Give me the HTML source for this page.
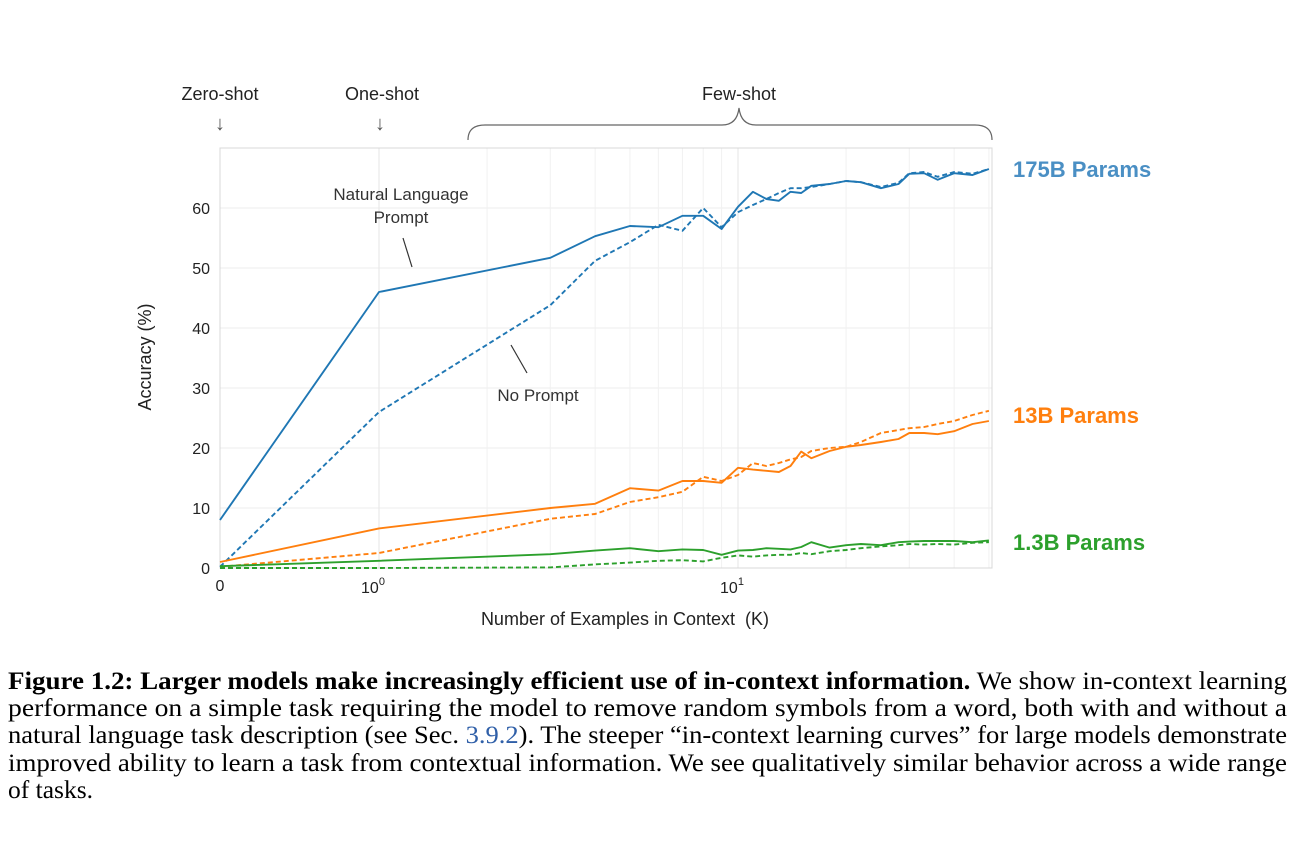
<!DOCTYPE html>
<html><head><meta charset="utf-8"><style>
body{margin:0;background:#fff;width:1299px;height:844px;overflow:hidden}
svg{display:block}
.sans{font-family:"Liberation Sans",sans-serif}
.serif{font-family:"Liberation Serif",serif}
</style></head><body>
<svg id="chart" width="1299" height="844" viewBox="0 0 1299 844" xmlns="http://www.w3.org/2000/svg">
<g id="grid"></g>
<rect x="220" y="148" width="772" height="420" fill="none" stroke="#d8d8d8" stroke-width="1"/>
<g id="ticks" class="sans" font-size="16" fill="#222"></g>
<g id="series"></g>
<text class="sans" x="0" y="0" font-size="18" fill="#222" text-anchor="middle" transform="translate(151,357) rotate(-90)">Accuracy (%)</text>
<text class="sans" x="625" y="625" font-size="18" fill="#222" text-anchor="middle" xml:space="preserve">Number of Examples in Context  (K)</text>
<g class="sans" font-size="18" fill="#222" text-anchor="middle">
<text x="220" y="100">Zero-shot</text>
<text x="220" y="130" font-size="20" fill="#555">↓</text>
<text x="382" y="100">One-shot</text>
<text x="380" y="130" font-size="20" fill="#555">↓</text>
<text x="739" y="100">Few-shot</text>
<path d="M468,140 Q468,125 485,125 L722,125 Q737,125 739,108 Q741,125 756,125 L975,125 Q992,125 992,140" fill="none" stroke="#666" stroke-width="1.2"/>
</g>
<g class="sans" font-size="17" fill="#333" text-anchor="middle">
<text x="401" y="200">Natural Language</text>
<text x="401" y="223">Prompt</text>
<line x1="403" y1="238" x2="412" y2="267" stroke="#333" stroke-width="1.2"/>
<text x="538" y="401">No Prompt</text>
<line x1="511" y1="345" x2="527" y2="373" stroke="#333" stroke-width="1.2"/>
</g>
<g class="sans" font-weight="bold" font-size="22">
<text x="1013" y="177" fill="#4a8fc4">175B Params</text>
<text x="1013" y="423" fill="#ff7f0e">13B Params</text>
<text x="1013" y="550" fill="#2ca02c">1.3B Params</text>
</g>
<g class="serif" font-size="25" fill="#000">
<text x="8" y="689" textLength="1279" lengthAdjust="spacingAndGlyphs"><tspan font-weight="bold">Figure 1.2: Larger models make increasingly efficient use of in-context information.</tspan>  We show in-context learning</text>
<text x="8" y="716" textLength="1279" lengthAdjust="spacingAndGlyphs">performance on a simple task requiring the model to remove random symbols from a word, both with and without a</text>
<text x="8" y="743" textLength="1279" lengthAdjust="spacingAndGlyphs">natural language task description (see Sec. <tspan fill="#2f5fa8">3.9.2</tspan>). The steeper “in-context learning curves” for large models demonstrate</text>
<text x="8" y="771" textLength="1279" lengthAdjust="spacingAndGlyphs">improved ability to learn a task from contextual information. We see qualitatively similar behavior across a wide range</text>
<text x="8" y="798" textLength="85" lengthAdjust="spacingAndGlyphs">of tasks.</text>
</g>
</svg>
<script>
const kValues = [0,1,3,4,5,6,7,8,9,10,11,12,13,14,15,16,18,20,22,25,28,30,33,36,40,45,50];
const blueNL = [8,46,51.7,55.3,57,56.8,58.7,58.7,56.5,60.2,62.7,61.5,61.2,62.7,62.5,63.7,64,64.5,64.3,63.3,64,65.7,65.8,64.7,65.8,65.5,66.5];
const blueNo = [0.2,26,43.8,51.2,54.3,57.2,56.2,60,56.8,59.3,60.5,61.5,62.5,63.3,63.3,63.5,64,64.5,64.3,63.5,64.2,65.8,66,65.2,66,65.7,66.5];
const orangeNL = [1,6.6,10,10.7,13.3,12.9,14.5,14.5,14.2,16.7,16.4,16.2,16,17,19.4,18.3,19.5,20.2,20.5,21,21.5,22.5,22.5,22.3,22.8,24,24.5];
const orangeNo = [0.2,2.5,8.2,9,11,11.8,12.7,15.2,14.5,15.5,17.5,17,17.5,18.1,18.5,19.5,20,20.2,21,22.5,23,23.3,23.5,24,24.5,25.5,26.2];
const greenNL = [0.3,1.2,2.3,2.9,3.3,2.8,3.1,3,2.2,2.9,3,3.3,3.2,3.1,3.5,4.3,3.4,3.8,4,3.8,4.3,4.4,4.5,4.5,4.5,4.3,4.6];
const greenNo = [0,0,0.1,0.6,0.9,1.2,1.3,1.1,1.7,2.1,1.9,2.1,2.2,2.2,2.5,2.3,2.8,3,3.3,3.6,3.8,4,3.9,4,3.9,4.2,4.3];
const yTicks = [0,10,20,30,40,50,60];

const NS="http://www.w3.org/2000/svg";
function xScale(k){return k<=1?220+159*k:379+359*Math.log10(k);}
function yScale(v){return 568-6*v;}
function mk(tag,attrs,parent){const e=document.createElementNS(NS,tag);for(const a in attrs)e.setAttribute(a,attrs[a]);parent.appendChild(e);return e;}
const grid=document.getElementById('grid'),ticks=document.getElementById('ticks'),series=document.getElementById('series');
yTicks.forEach(v=>{
  const l=mk('line',{x1:220,x2:992,y1:yScale(v),y2:yScale(v),stroke:'#ececec','stroke-width':1},grid);
  
  
  const t=mk('text',{x:210,y:yScale(v)+6,'text-anchor':'end'},ticks);
  t.textContent=v;
  
  
});
for(let k=2;k<=50;k++){
  if(k===10)continue;
  if(k>10&&k%10!==0)continue;
  const l=mk('line',{x1:xScale(k),x2:xScale(k),y1:148,y2:568,stroke:'#f1f1f1','stroke-width':1},grid);
  
  
}
[1,10].forEach(k=>{
  const l=mk('line',{x1:xScale(k),x2:xScale(k),y1:148,y2:568,stroke:'#e6e6e6','stroke-width':1},grid);
  
  
});
const t0=mk('text',{x:220,y:591,'text-anchor':'middle'},ticks);t0.textContent='0';


[[1,'0'],[10,'1']].forEach(([k,e])=>{
  const t=mk('text',{x:xScale(k)-6,y:593,'text-anchor':'middle'},ticks);
  t.innerHTML='10<tspan dy="-8" font-size="11">'+e+'</tspan>';
  
  
});
const defs=[[blueNL,'#1f77b4',null,'line-175b-prompt'],[blueNo,'#1f77b4','5,3','line-175b-no-prompt'],
[orangeNL,'#ff7f0e',null,'line-13b-prompt'],[orangeNo,'#ff7f0e','5,3','line-13b-no-prompt'],
[greenNL,'#2ca02c',null,'line-1-3b-prompt'],[greenNo,'#2ca02c','5,3','line-1-3b-no-prompt']];
defs.forEach(([vals,col,dash,name])=>{
  const pts=kValues.map((k,i)=>xScale(k).toFixed(1)+','+yScale(vals[i]).toFixed(1)).join(' ');
  const a={points:pts,fill:'none',stroke:col,'stroke-width':1.9,'stroke-linejoin':'round'};
  if(dash)a['stroke-dasharray']=dash;
  const p=mk('polyline',a,series);
  
  
});
</script>
</body></html>
